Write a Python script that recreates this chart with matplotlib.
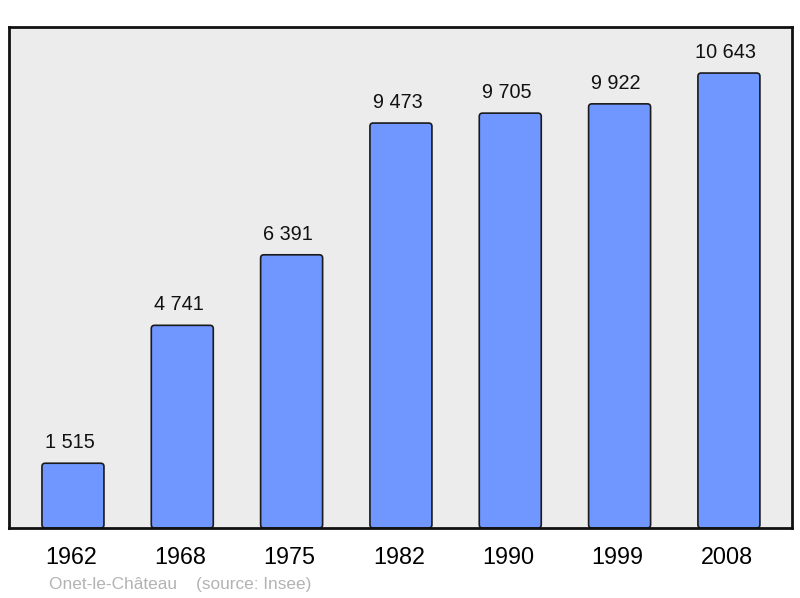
import matplotlib
matplotlib.use("Agg")
import matplotlib.pyplot as plt
from matplotlib.patches import FancyBboxPatch
from matplotlib.transforms import ScaledTranslation

years = ["1962", "1968", "1975", "1982", "1990", "1999", "2008"]
population = [1515, 4741, 6391, 9473, 9705, 9922, 10643]
value_labels = ["1 515", "4 741", "6 391", "9 473", "9 705", "9 922", "10 643"]

plt.rcParams['font.family'] = ['Liberation Sans', 'DejaVu Sans']

fig = plt.figure(figsize=(8, 5.98), dpi=100)
ax = fig.add_axes([9/800, 1 - 528/598, 783/800, 501/598])
ax.set_facecolor('#ececec')

bars = ax.bar(range(len(years)), population, width=0.567, color='#7097ff',
              edgecolor='#1a1a1a', linewidth=1.2)
ax.set_xlim(-0.585, 6.577)
ax.set_ylim(0, 11720)

# swap plain rectangles for slightly rounded ones
yscale = (ax.get_ylim()[1] / 501) / ((ax.get_xlim()[1] - ax.get_xlim()[0]) / 783)
for b in bars:
    x, y = b.get_x(), b.get_y()
    w, h = b.get_width(), b.get_height()
    p = FancyBboxPatch((x, y), w, h, boxstyle="round,pad=0,rounding_size=0.03",
                       mutation_aspect=yscale, facecolor='#7097ff',
                       edgecolor='#1a1a1a', linewidth=1.2, zorder=2)
    b.set_visible(False)
    ax.add_patch(p)

# labels sit a few px left of the bar centres in the original
shift = ScaledTranslation(-3.5/100, 0, fig.dpi_scale_trans)
for i, (v, lbl) in enumerate(zip(population, value_labels)):
    ax.text(i, v + 260, lbl, ha='center', va='bottom', fontsize=14.3,
            color='#111111', transform=ax.transData + shift)

ax.set_xticks(range(len(years)))
ax.set_xticklabels(years, fontsize=16.8)
ax.tick_params(axis='x', length=0, pad=13)
tshift = ScaledTranslation(-2/100, 0, fig.dpi_scale_trans)
for t in ax.get_xticklabels():
    t.set_transform(t.get_transform() + tshift)
ax.set_yticks([])
for s in ax.spines.values():
    s.set_linewidth(2)
    s.set_color('#111111')

fig.text(49/800, 1 - 584/598, "Onet-le-Château    (source: Insee)", fontsize=12.4,
         color='#b3b3b3', va='center', ha='left')

fig.savefig('out.png', dpi=100)
